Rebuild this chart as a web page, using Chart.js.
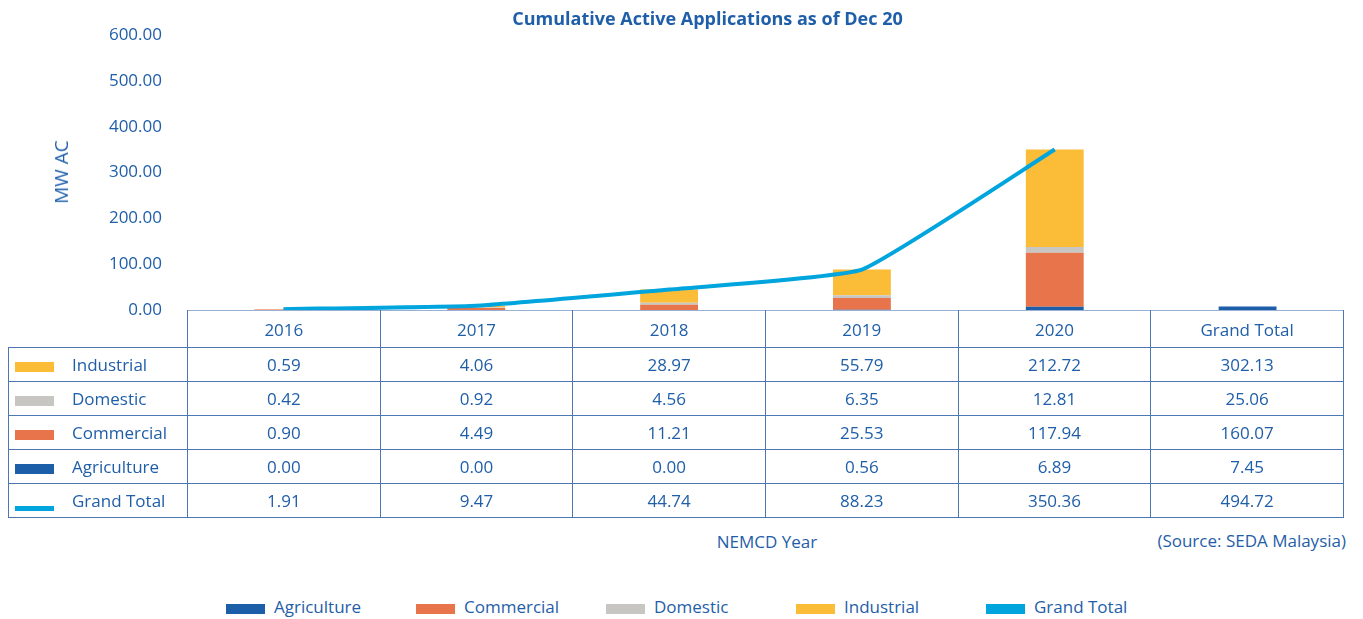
<!DOCTYPE html>
<html>
<head>
<meta charset="utf-8">
<script src="https://cdn.jsdelivr.net/npm/chart.js@4.4.1/dist/chart.umd.min.js"></script>
<style>
  html, body { margin: 0; padding: 0; background: #fff; }
  body { width: 1363px; height: 619px; position: relative; overflow: hidden;
         font-family: "Open Sans", sans-serif; color: #1f5ea8; }
  #title { position: absolute; left: 0; width: 1415px; top: 6px; text-align: center;
           font-weight: bold; font-size: 18px; }
  #chart { position: absolute; left: 0; top: 0; }
  #yTitle { position: absolute; left: 61px; top: 172px; font-size: 19px;
            transform: translate(-50%, -50%) rotate(-90deg); white-space: nowrap; }
  #dataTable { position: absolute; left: 8px; top: 310px; width: 1336px;
               border-collapse: collapse; table-layout: fixed; font-size: 17px; }
  #dataTable td { border: 1px solid #4d77b3; text-align: center; height: 33px; padding: 0; }
  #dataTable tr.head td { height: 36px; border-top-color: #97b0d3; }
  #dataTable td.blank { border-top: none; border-left: none; }
  #dataTable td.name { text-align: left; white-space: nowrap; }
  .sw { display: inline-block; width: 39px; height: 10px; margin: 0 18px 0 6px; vertical-align: -1px; }
  .sw.line { height: 5px; vertical-align: -4px; }
  #xTitle { position: absolute; left: 767px; top: 530px; transform: translateX(-50%); font-size: 17px; }
  #source { position: absolute; right: 17px; top: 529px; font-size: 17px; }
  #legend { position: absolute; left: 226px; top: 595px; display: flex; font-size: 17px; }
  #legend .item { width: 190px; white-space: nowrap; }
  #legend .sw { margin: 0 9px 0 0; }
</style>
</head>
<body>
<canvas id="chart" width="1363" height="360"></canvas>
<div id="title">Cumulative Active Applications as of Dec 20</div>
<div id="yTitle">MW AC</div>
<table id="dataTable"></table>
<div id="xTitle">NEMCD Year</div>
<div id="source">(Source: SEDA Malaysia)</div>
<div id="legend"></div>

<script>
// Data
const categories = ['2016', '2017', '2018', '2019', '2020', 'Grand Total'];
const industrial  = [0.59, 4.06, 28.97, 55.79, 212.72, 302.13];
const domestic    = [0.42, 0.92, 4.56, 6.35, 12.81, 25.06];
const commercial  = [0.90, 4.49, 11.21, 25.53, 117.94, 160.07];
const agriculture = [0.00, 0.00, 0.00, 0.56, 6.89, 7.45];
const grandTotal  = [1.91, 9.47, 44.74, 88.23, 350.36, 494.72];
const yTicks = [0, 100, 200, 300, 400, 500, 600];

const colors = {
    agriculture: '#1c5ea8',
    commercial: '#e8744c',
    domestic: '#c8c6c2',
    industrial: '#fbbc38',
    total: '#00a5de'
};

// the plot only draws the yearly columns (agriculture also shows in Grand Total)
const years = 5;

// plot area has to sit exactly on top of the table columns
const plotTop = 33;
const plotBottom = 310;

const chart = new Chart(document.getElementById('chart'), {
    data: {
        labels: categories,
        datasets: [
            {
                type: 'line',
                label: 'Grand Total',
                data: grandTotal.slice(0, years),
                borderColor: colors.total,
                borderWidth: 4,
                pointRadius: 0,
                tension: 0.12,
                order: 0
            },
            { type: 'bar', label: 'Agriculture', data: agriculture, backgroundColor: colors.agriculture, order: 1 },
            { type: 'bar', label: 'Commercial', data: commercial.slice(0, years), backgroundColor: colors.commercial, order: 1 },
            { type: 'bar', label: 'Domestic', data: domestic.slice(0, years), backgroundColor: colors.domestic, order: 1 },
            { type: 'bar', label: 'Industrial', data: industrial.slice(0, years), backgroundColor: colors.industrial, order: 1 }
        ]
    },
    options: {
        responsive: false,
        animation: false,
        datasets: { bar: { barPercentage: 0.3, categoryPercentage: 1 } },
        layout: { autoPadding: false, padding: { top: 33, bottom: 50, left: 0, right: 19 } },
        plugins: {
            legend: { display: false },
            tooltip: { enabled: false }
        },
        scales: {
            x: {
                stacked: true,
                grid: { display: false, drawTicks: false },
                border: { display: false },
                ticks: { display: false },
                afterFit(scale) { scale.height = 0; }
            },
            y: {
                stacked: true,
                min: 0,
                max: 600,
                afterFit(scale) { scale.width = 187; },
                afterBuildTicks(scale) { scale.ticks = yTicks.map(v => ({ value: v })); },
                grid: { display: false, drawTicks: false },
                border: { display: false },
                ticks: {
                    padding: 25,
                    color: '#1f5ea8',
                    font: { family: 'Open Sans', size: 17 },
                    callback: v => v.toFixed(2)
                }
            }
        }
    }
});

// nudge the padding so the plot area lands on plotTop / plotBottom
const pad = chart.options.layout.padding;
pad.top += plotTop - chart.chartArea.top;
pad.bottom += chart.chartArea.bottom - plotBottom;
chart.update();

// Data table below the plot
const rows = [
    { name: 'Industrial', values: industrial, color: colors.industrial },
    { name: 'Domestic', values: domestic, color: colors.domestic },
    { name: 'Commercial', values: commercial, color: colors.commercial },
    { name: 'Agriculture', values: agriculture, color: colors.agriculture },
    { name: 'Grand Total', values: grandTotal, color: colors.total, line: true }
];

let html = '<colgroup><col style="width:179px">' + categories.map(() => '<col>').join('') + '</colgroup>';
html += '<tr class="head"><td class="blank"></td>' + categories.map(c => `<td>${c}</td>`).join('') + '</tr>';
rows.forEach(r => {
    html += `<tr><td class="name"><span class="sw${r.line ? ' line' : ''}" style="background:${r.color}"></span>${r.name}</td>`;
    html += r.values.map(v => `<td>${v.toFixed(2)}</td>`).join('') + '</tr>';
});
document.getElementById('dataTable').innerHTML = html;

// Bottom legend
const legendItems = [
    ['Agriculture', colors.agriculture],
    ['Commercial', colors.commercial],
    ['Domestic', colors.domestic],
    ['Industrial', colors.industrial],
    ['Grand Total', colors.total]
];
document.getElementById('legend').innerHTML = legendItems.map(([name, color]) =>
    `<div class="item"><span class="sw" style="background:${color}"></span>${name}</div>`
).join('');
</script>
</body>
</html>
